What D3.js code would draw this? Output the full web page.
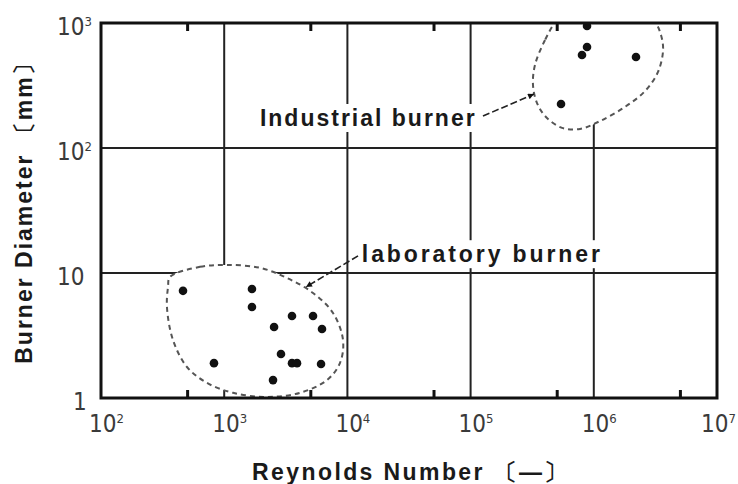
<!DOCTYPE html>
<html><head><meta charset="utf-8">
<script src="https://cdn.jsdelivr.net/npm/d3@7"></script>
<style>
html,body{margin:0;padding:0;background:#fff;}
svg{display:block;}
.lbl{font-family:"Liberation Sans",Arial,sans-serif;font-weight:bold;fill:#1a1a1a;}
.tick-lbl{font-family:"Liberation Sans Narrow","DejaVu Sans Condensed","Liberation Sans",sans-serif;fill:#3a3a3a;}
</style>
</head><body>
<svg id="chart" width="738" height="484"></svg>
<script>
// ---- data ----
const xMajorTicks = [1e2, 1e3, 1e4, 1e5, 1e6, 1e7];
const xTickExp = ["2", "3", "4", "5", "6", "7"];
const xMinorTicks = [5e2, 5e3, 5e4, 5e5, 5e6];
const yMajorTicks = [1, 10, 100, 1000];
const yTickBase = ["1", "10", "10", "10"];
const yTickExp = ["", "", "2", "3"];

// laboratory burners: Reynolds number, diameter (mm)
const labRe = [463, 1680, 1680, 826, 2540, 3550, 5260, 6220, 2890, 3550, 3900, 6110, 2490];
const labD  = [7.2, 7.45, 5.35, 1.9, 3.7, 4.53, 4.53, 3.56, 2.25, 1.9, 1.9, 1.87, 1.39];
// industrial burners
const indRe = [881e3, 881e3, 802e3, 2.2e6, 542e3];
const indD  = [946, 643, 555, 535, 225];

// region outlines (Re, D)
const labRegionRe = [363, 637, 1054, 1955, 3237, 5260, 7640, 9210, 8710, 6820, 4120, 2220, 1180, 725, 499, 384, 343, 350];
const labRegionD  = [9.29, 11.2, 11.6, 11.0, 9.12, 6.92, 4.79, 2.91, 1.91, 1.39, 1.10, 1.02, 1.10, 1.32, 1.77, 2.91, 5.35, 7.73];
const indRegionRe = [5.02e5, 4.02e5, 3.33e5, 3.21e5, 3.46e5, 4.09e5, 5.52e5, 7.73e5, 1.12e6, 1.79e6, 2.61e6, 3.32e6, 3.65e6, 3.51e6, 3.14e6, 2.37e6, 1.12e6, 6.41e5];
const indRegionD  = [1057, 731, 461, 319, 229, 177, 145, 142, 164, 213, 286, 406, 608, 802, 1019, 1271, 1393, 1271];

// annotations
const annoText = ["Industrial burner", "laboratory burner"];
const annoTextRe = [1950, 1.31e4];
const annoTextD = [150, 12.2];
const arrowFromRe = [1.26e5, 1.22e4];
const arrowFromD = [180, 13.7];
const arrowToRe = [3.27e5, 4610];
const arrowToD = [270, 7.73];

const xTitle = "Reynolds Number 〔—〕";
const yTitle = "Burner Diameter 〔mm〕";

// ---- styles ----
const annoSpacing = [2, 2.9];

// ---- layout ----
const svg = d3.select("#chart");
const m = {left: 101, top: 23, right: 21, bottom: 86};
const W = 738 - m.left - m.right, H = 484 - m.top - m.bottom;
const x = d3.scaleLog().domain([1e2, 1e7]).range([0, W]);
const y = d3.scaleLog().domain([1, 1e3]).range([H, 0]);
const g = svg.append("g").attr("transform", `translate(${m.left},${m.top})`);

svg.append("defs").append("clipPath").attr("id", "plotclip")
  .append("rect").attr("width", W).attr("height", H);
svg.select("defs").append("marker").attr("id", "ah")
  .attr("viewBox", "0 0 10 10").attr("refX", 10).attr("refY", 5)
  .attr("markerWidth", 14).attr("markerHeight", 6).attr("markerUnits", "userSpaceOnUse")
  .attr("orient", "auto")
  .append("path").attr("d", "M0,0 L10,5 L0,10 Z").attr("fill", "#111");

// gridlines
g.append("g").selectAll("line").data([1e3, 1e4, 1e5, 1e6]).join("line")
  .attr("x1", d => x(d)).attr("x2", d => x(d)).attr("y1", 0).attr("y2", H)
  .attr("stroke", "#222").attr("stroke-width", 2);
g.append("g").selectAll("line").data([10, 100]).join("line")
  .attr("x1", 0).attr("x2", W).attr("y1", d => y(d)).attr("y2", d => y(d))
  .attr("stroke", "#222").attr("stroke-width", 2);

// regions
const regionLine = d3.line().x(d => x(d[0])).y(d => y(d[1])).curve(d3.curveCatmullRomClosed.alpha(0.5));
const regions = g.append("g").attr("clip-path", "url(#plotclip)");
[[labRegionRe, labRegionD], [indRegionRe, indRegionD]].forEach(([rx, ry]) => {
  regions.append("path").datum(rx.map((v, i) => [v, ry[i]]))
    .attr("d", regionLine).attr("fill", "#fff")
    .attr("stroke", "#555").attr("stroke-width", 2).attr("stroke-dasharray", "5,4");
});

// annotation text with white background
const anno = g.append("g");
annoText.forEach((t, i) => {
  const bg = anno.append("rect").attr("fill", "#fff");
  const tx = anno.append("text").attr("class", "lbl")
    .attr("x", x(annoTextRe[i])).attr("y", y(annoTextD[i]))
    .attr("font-size", 23).attr("letter-spacing", annoSpacing[i]).text(t);
  const b = tx.node().getBBox();
  bg.attr("x", b.x - 3).attr("y", b.y - 1).attr("width", b.width + 6).attr("height", b.height + 2);
  anno.append("line")
    .attr("x1", x(arrowFromRe[i])).attr("y1", y(arrowFromD[i]))
    .attr("x2", x(arrowToRe[i])).attr("y2", y(arrowToD[i]))
    .attr("stroke", "#222").attr("stroke-width", 1.6).attr("stroke-dasharray", "7,3")
    .attr("marker-end", "url(#ah)");
});

// points
const pts = g.append("g").attr("clip-path", "url(#plotclip)");
pts.selectAll("circle.lab").data(labRe.map((v, i) => [v, labD[i]])).join("circle")
  .attr("class", "lab").attr("cx", d => x(d[0])).attr("cy", d => y(d[1])).attr("r", 4.3).attr("fill", "#111");
pts.selectAll("circle.ind").data(indRe.map((v, i) => [v, indD[i]])).join("circle")
  .attr("class", "ind").attr("cx", d => x(d[0])).attr("cy", d => y(d[1])).attr("r", 4.3).attr("fill", "#111");

// minor ticks (inward) top & bottom
g.append("g").attr("transform", `translate(0,${H})`)
  .call(d3.axisBottom(x).tickValues(xMinorTicks).tickSize(-8).tickFormat(""))
  .call(s => { s.select(".domain").remove(); s.selectAll("line").attr("stroke", "#111").attr("stroke-width", 3); });
g.append("g")
  .call(d3.axisTop(x).tickValues(xMinorTicks).tickSize(-8).tickFormat(""))
  .call(s => { s.select(".domain").remove(); s.selectAll("line").attr("stroke", "#111").attr("stroke-width", 3); });

// frame
g.append("rect").attr("width", W).attr("height", H).attr("fill", "none")
  .attr("stroke", "#111").attr("stroke-width", 3);

// x tick labels
const xl = g.append("g").attr("class", "tick-lbl");
xMajorTicks.forEach((v, i) => {
  const t = xl.append("text").attr("x", x(v) - 12).attr("y", H + 34).attr("font-size", 24);
  t.append("tspan").text("10");
  t.append("tspan").attr("dy", -9).attr("font-size", 13).text(xTickExp[i]);
  const b = t.node().getBBox();
  const over = (m.left + b.x + b.width) - 736;
  if (over > 0) t.attr("x", x(v) - 12 - over);
});
// y tick labels
const yl = g.append("g").attr("class", "tick-lbl");
yMajorTicks.forEach((v, i) => {
  const t = yl.append("text").attr("x", yTickBase[i] === "1" ? -28 : -44)
    .attr("y", y(v) + 12).attr("font-size", 24);
  t.append("tspan").text(yTickBase[i]);
  if (yTickExp[i]) t.append("tspan").attr("dy", -9).attr("font-size", 13).text(yTickExp[i]);
});

// axis titles
svg.append("text").attr("class", "lbl").attr("font-size", 23).attr("letter-spacing", 2.4)
  .attr("text-anchor", "middle").attr("x", m.left + W / 2 + 2).attr("y", 480).text(xTitle);
svg.append("text").attr("class", "lbl").attr("font-size", 23).attr("letter-spacing", 2)
  .attr("text-anchor", "middle").attr("transform", `translate(32,${m.top + 184}) rotate(-90)`).text(yTitle);
</script>
</body></html>
